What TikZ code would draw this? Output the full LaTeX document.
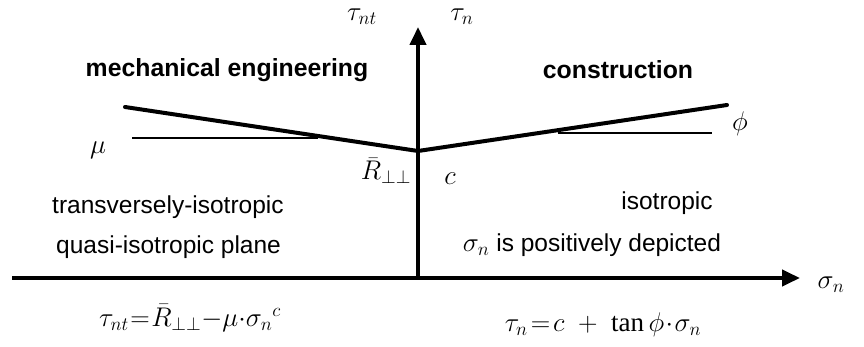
\RequirePackage{fix-cm}
\documentclass[tikz,border=0pt]{standalone}
\usepackage{fontspec}
\setmainfont{Liberation Serif}
\setsansfont{Liberation Sans}
\usetikzlibrary{arrows.meta}
\begin{document}
\begin{tikzpicture}[x=1pt,y=-1pt,
  axis/.style={line width=4pt,-{Triangle[length=18pt,width=16pt]}},
  envelope/.style={line width=4pt,line cap=round},
  thinline/.style={line width=1.3pt},
  lbl/.style={inner sep=0pt,font=\sffamily\fontsize{24.5}{29}\selectfont},
  blbl/.style={inner sep=0pt,font=\sffamily\fontsize{24.8}{29}\selectfont\bfseries},
  mlbl/.style={inner sep=0pt,font=\fontsize{27}{32}\selectfont}]
\useasboundingbox (0,0) rectangle (864,347);
\fill[white] (0,0) rectangle (864,347);
% axes
\coordinate (O) at (418,278);
\coordinate (xl) at (12,278);
\coordinate (xr) at (800,278);
\coordinate (yt) at (418,27);
\draw[axis] (xl) -- (xr);
\draw[axis] (O) -- (yt);
% envelope
\coordinate (C) at (418,151);
\coordinate (Lend) at (125,107);
\coordinate (Rend) at (727,105);
\draw[envelope] (Lend) -- (C) -- (Rend);
% thin reference lines
\coordinate (mu1) at (132,138);
\coordinate (mu2) at (318,138);
\coordinate (ph1) at (558,133);
\coordinate (ph2) at (712,133);
\draw[thinline] (mu1) -- (mu2);
\draw[thinline] (ph1) -- (ph2);
% labels
\node[mlbl] (taunt) at (362,17) {$\tau_{nt}$};
\node[mlbl] (taun) at (462,17) {$\tau_{n}$};
\node[blbl] (mech) at (227,70) {mechanical engineering};
\node[blbl] (cons) at (618,70) {construction};
\node[mlbl] (mu) at (98,150) {$\mu$};
\node[mlbl] (phi) at (740,124) {$\phi$};
\node[mlbl] (R) at (386,171) {$\bar R_{\perp\perp}$};
\node[mlbl] (c) at (450,179) {$c$};
\node[lbl,anchor=west] (trans) at (52,207) {transversely-isotropic};
\node[lbl,anchor=west] (quasi) at (56,247) {quasi-isotropic plane};
\node[lbl] (iso) at (667,203) {isotropic};
\node[lbl] (pos) at (592,245) {{\fontsize{27}{32}\selectfont$\sigma_n$} is positively depicted};
\node[mlbl] (sig) at (831,285) {$\sigma_n$};
\node[mlbl] (f1) at (190,318) {\thickmuskip=1mu\medmuskip=0mu$\tau_{nt}=\bar R_{\perp\perp}-\mu\cdot{\sigma_n}^{c}$};
\node[mlbl] (f2) at (603,325) {\thickmuskip=2mu\medmuskip=1mu$\tau_n=c\mskip8mu+\mskip8mu\tan\phi\cdot\sigma_n$};
\end{tikzpicture}
\end{document}
